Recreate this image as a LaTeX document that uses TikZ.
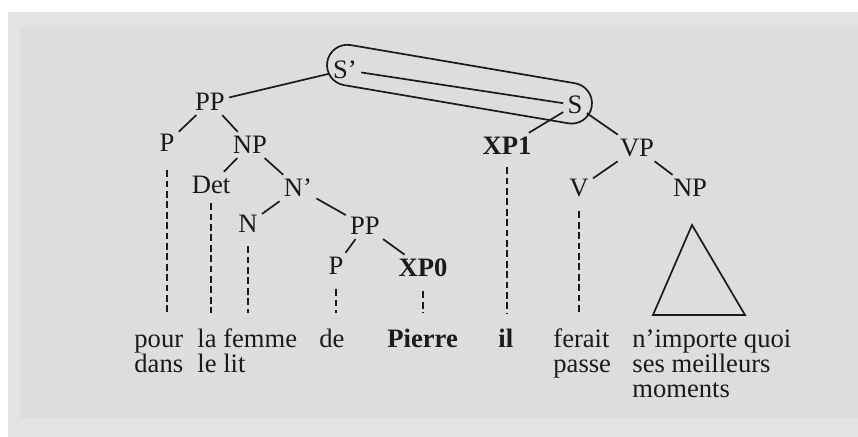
\documentclass[tikz,border=0pt]{standalone}
\usepackage{fontspec}
\setmainfont{Liberation Serif}
\definecolor{paper}{RGB}{227,227,227}
\definecolor{paperdark}{RGB}{221,221,221}
\definecolor{ink}{RGB}{26,26,26}
\begin{document}
\begin{tikzpicture}[x=0.5pt,y=-0.5pt,
  cat/.style={inner sep=2pt, text=ink, font=\fontsize{13.3}{15}\selectfont},
  catb/.style={cat, font=\fontsize{13.3}{15}\selectfont\bfseries},
  word/.style={anchor=base west, inner sep=0pt, text=ink, font=\fontsize{13.3}{15}\selectfont},
  wordb/.style={word, font=\fontsize{13.3}{15}\selectfont\bfseries},
  branch/.style={draw=ink, line width=0.85pt},
  trace/.style={draw=ink, line width=0.7pt, dash pattern=on 3.4pt off 1.8pt},
]
\useasboundingbox (0,0) rectangle (858,437);
% page background
\fill[white] (0,0) rectangle (858,437);
\fill[paper] (8,12) rectangle (858,437);
\fill[paperdark] (20,27) rectangle (858,418);

% categories
\node[cat] (Sp)   at (345,70)  {S’};
\node[cat] (PPa)  at (210,102) {PP};
\node[cat] (Pa)   at (167,143) {P};
\node[cat] (NPa)  at (250,145) {NP};
\node[cat] (Det)  at (211,185) {Det};
\node[cat] (Nbar) at (298,188) {N’};
\node[cat] (N)    at (248,224) {N};
\node[cat] (PPb)  at (365,226) {PP};
\node[cat] (Pb)   at (336,266) {P};
\node[catb] (XP0) at (423,268) {XP0};
\node[cat] (S)    at (575,105) {S};
\node[catb] (XP1) at (507,146) {XP1};
\node[cat] (VP)   at (637,148) {VP};
\node[cat] (V)    at (579,188) {V};
\node[cat] (NPb)  at (690,188) {NP};

% branches
\draw[branch] (Sp) -- (PPa);
\draw[branch] (PPa) -- (Pa);
\draw[branch] (PPa) -- (NPa);
\draw[branch] (NPa) -- (Det);
\draw[branch] (NPa) -- (Nbar);
\draw[branch] (Nbar) -- (N);
\draw[branch] (Nbar) -- (PPb);
\draw[branch] (PPb) -- (Pb);
\draw[branch] (PPb) -- (XP0);
\draw[branch] (Sp) -- (S);
\draw[branch] (S) -- (XP1);
\draw[branch] (S) -- (VP);
\draw[branch] (VP) -- (V);
\draw[branch] (VP) -- (NPb);

% loop enclosing S' and S
\begin{scope}[shift={(459.5,84.2)}, rotate=-9.66]
  \draw[branch] (-113.8,-20.3) -- (113.8,-20.3)
    arc[start angle=-90, end angle=90, radius=20.3]
    -- (-113.8,20.3)
    arc[start angle=90, end angle=270, radius=20.3] -- cycle;
\end{scope}

% roof over the object NP
\coordinate (apex) at (692,225);
\coordinate (roofL) at (653,315);
\coordinate (roofR) at (745,315);
\draw[branch, line join=miter] (apex) -- (roofL) -- (roofR) -- cycle;

% dashed lines down to the words
\coordinate (tb) at (0,313);
\draw[trace] ([yshift=-7pt]Pa.south) -- (Pa.south |- tb);
\draw[trace] ([yshift=-2.5pt]Det.south) -- (Det.south |- tb);
\draw[trace] ([yshift=-4.5pt]N.south) -- (N.south |- tb);
\draw[trace] ([yshift=-5pt]Pb.south) -- (Pb.south |- tb);
\draw[trace] ([yshift=-5pt]XP0.south) -- (XP0.south |- tb);
\draw[trace] ([yshift=-4pt]XP1.south) -- (XP1.south |- tb);
\draw[trace] ([yshift=-5pt]V.south) -- (V.south |- tb);

% words
\node[word]  (wPour)     at (134,348) {pour};
\node[word]  (wDans)     at (134,373) {dans};
\node[word]  (wLaFemme)  at (197,348) {la femme};
\node[word]  (wLeLit)    at (197,373) {le lit};
\node[word]  (wDe)       at (319,348) {de};
\node[wordb] (wPierre)   at (387,348) {Pierre};
\node[wordb] (wIl)       at (498,348) {il};
\node[word]  (wFerait)   at (553,348) {ferait};
\node[word]  (wPasse)    at (553,373) {passe};
\node[word]  (wImporte)  at (632,348) {n’importe quoi};
\node[word]  (wSes)      at (632,373) {ses meilleurs};
\node[word]  (wMoments)  at (632,398) {moments};
\end{tikzpicture}
\end{document}
